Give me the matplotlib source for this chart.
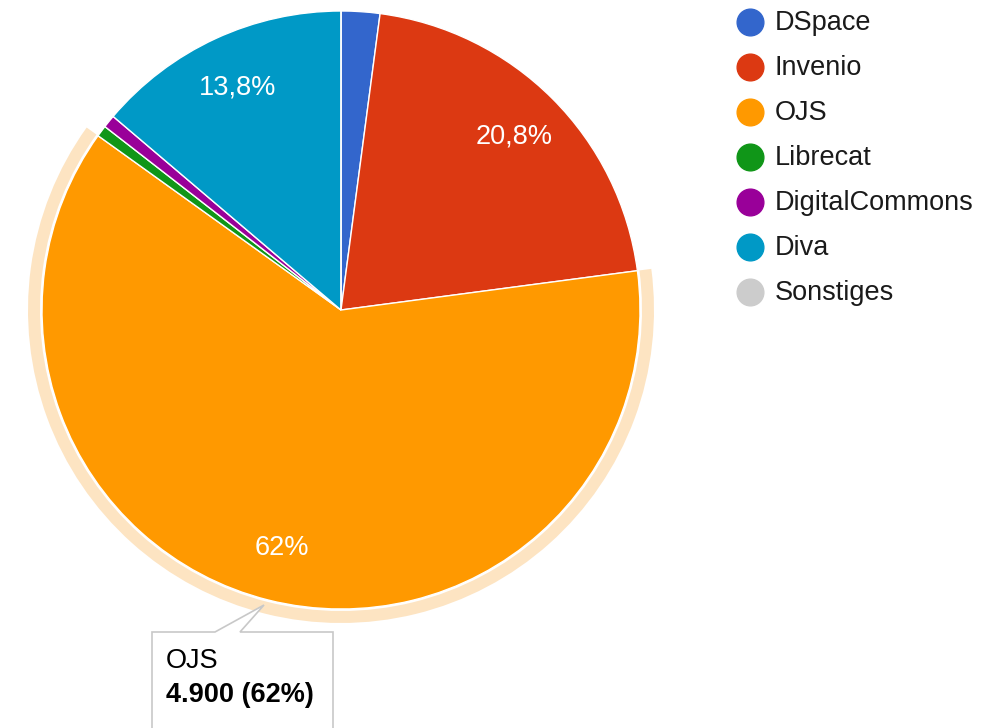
# Pie chart of repository software in use (Google Charts look, OJS slice highlighted)

import matplotlib.pyplot as plt
from matplotlib.patches import Wedge, Polygon

plt.rcParams['font.family'] = ['Liberation Sans', 'DejaVu Sans']

# Data
systems = ['DSpace', 'Invenio', 'OJS', 'Librecat', 'DigitalCommons', 'Diva', 'Sonstiges']
counts = [165, 1645, 4900, 48, 55, 1090, 0]
colors = ['#3366cc', '#dc3912', '#ff9900', '#109618', '#990099', '#0099c6', '#cccccc']
highlight = 'OJS'

fig = plt.figure(figsize=(10.02, 7.28), dpi=100)
ax = fig.add_axes([0, 0, 1, 1])

# pie in pixel coordinates (y measured from bottom)
cx, cy, r = 341, 418, 299


def pct_label(p):
    if p < 5:
        return ''
    return f'{p:.1f}'.rstrip('0').rstrip('.').replace('.', ',') + '%'


wedges, texts, autotexts = ax.pie(
    counts, colors=colors, startangle=90, counterclock=False,
    center=(cx, cy), radius=r, autopct=pct_label, pctdistance=0.82,
    wedgeprops=dict(edgecolor='white', linewidth=1.0),
    textprops=dict(color='white', fontsize=19.5))

# hover ring around the highlighted slice
i = systems.index(highlight)
w = wedges[i]
ax.add_patch(Wedge((cx, cy), r + 14, w.theta1, w.theta2, width=12,
                   facecolor='#fde4c2', edgecolor='none', zorder=0))

# legend, drawn by hand to match the Google layout
for k, (name, col) in enumerate(zip(systems, colors)):
    y = 728 - (22 + 45 * k)
    ax.scatter([750], [y], s=370, color=col, zorder=3)
    ax.text(775, y - 1, name, fontsize=19.5, color='#1a1a1a', va='center', ha='left')

# tooltip for the highlighted slice
total = sum(counts)
value = counts[i]
tip = Polygon([(152, -20), (152, 728 - 632), (215, 728 - 632), (264, 728 - 605),
               (240, 728 - 632), (333, 728 - 632), (333, -20)],
              closed=True, facecolor='white', edgecolor='#c8c8c8', linewidth=1.2, zorder=4)
ax.add_patch(tip)
ax.text(166, 728 - 661, highlight, fontsize=19.5, color='#000000', va='center', zorder=5)
value_txt = f'{value:,}'.replace(',', '.') + f' ({round(100 * value / total)}%)'
ax.text(166, 728 - 695, value_txt, fontsize=19.5, fontweight='bold', color='#000000',
        va='center', zorder=5)

ax.set_xlim(0, 1002)
ax.set_ylim(0, 728)
ax.set_aspect('auto')
ax.axis('off')

fig.savefig('out.png', dpi=100)
